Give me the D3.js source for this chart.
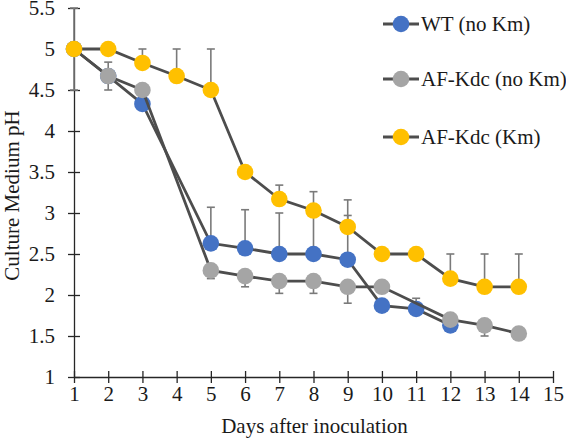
<!DOCTYPE html>
<html><head><meta charset="utf-8">
<script src="https://cdn.jsdelivr.net/npm/d3@7"></script>
<style>body{margin:0;background:#fff}svg{display:block}text{font-family:"Liberation Serif","Times New Roman",serif;fill:#1a1a1a}</style>
</head><body><svg id="c" width="566" height="443"></svg>
<script>
const days = [1,2,3,4,5,6,7,8,9,10,11,12,13,14];
const xTicks = [1,2,3,4,5,6,7,8,9,10,11,12,13,14,15];
const yTicks = [1,1.5,2,2.5,3,3.5,4,4.5,5,5.5];
const seriesNames = ["WT (no Km)","AF-Kdc (no Km)","AF-Kdc (Km)"];
const seriesColors = ["#4472C4","#A5A5A5","#FFC000"];
const wt      = [5, 4.67, 4.33, null, 2.63, 2.57, 2.5, 2.5, 2.43, 1.87, 1.83, 1.63, null, null];
const wtUp    = [0.5, 0, 0, 0, 0.44, 0.47, 0.5, 0.5, 0.54, 0, 0.13, 0, 0, 0];
const wtDown  = [0.5, 0, 0, 0, 0, 0, 0, 0, 0, 0, 0, 0, 0, 0];
const afNo     = [5, 4.67, 4.5, null, 2.3, 2.23, 2.17, 2.17, 2.1, 2.1, null, 1.7, 1.63, 1.53];
const afNoUp   = [0, 0.17, 0, 0, 0, 0, 0, 0, 0, 0, 0, 0, 0, 0];
const afNoDown = [0, 0.17, 0, 0, 0.1, 0.13, 0.15, 0.15, 0.2, 0, 0, 0, 0.13, 0];
const afKm     = [5, 5, 4.83, 4.67, 4.5, 3.5, 3.17, 3.03, 2.83, 2.5, 2.5, 2.2, 2.1, 2.1];
const afKmUp   = [0, 0, 0.17, 0.33, 0.5, 0, 0.17, 0.23, 0.33, 0, 0, 0.3, 0.4, 0.4];
const afKmDown = [0, 0, 0, 0, 0, 0, 0, 0, 0, 0, 0, 0, 0, 0];

const series = [
  {name: seriesNames[0], color: seriesColors[0], vals: wt, up: wtUp, down: wtDown},
  {name: seriesNames[1], color: seriesColors[1], vals: afNo, up: afNoUp, down: afNoDown},
  {name: seriesNames[2], color: seriesColors[2], vals: afKm, up: afKmUp, down: afKmDown}
];

const FONT = '"Liberation Serif","Times New Roman",serif';
const svg = d3.select("#c");
const x = d3.scaleLinear().domain([1,15]).range([74,553]);
const y = d3.scaleLinear().domain([1,5.5]).range([377,8]);
const axisColor = "#262626";

// axes
const gx = svg.append("g").attr("transform","translate(0,377)")
  .call(d3.axisBottom(x).tickValues(xTicks).tickFormat(d3.format("d")).tickSizeOuter(0))
  .attr("font-family", FONT).attr("font-size", 21);
gx.select(".domain").attr("stroke",axisColor).attr("stroke-width",1.3);
gx.selectAll(".tick line").attr("y1",-6).attr("y2",6).attr("stroke",axisColor).attr("stroke-width",1.3);
gx.selectAll(".tick text").attr("y",null).attr("dy",null).attr("transform","translate(0,24)");

const gy = svg.append("g").attr("transform","translate(74,0)")
  .call(d3.axisLeft(y).tickValues(yTicks).tickFormat(d3.format("")).tickSizeOuter(0))
  .attr("font-family", FONT).attr("font-size", 21);
gy.select(".domain").attr("stroke",axisColor).attr("stroke-width",1.3);
gy.selectAll(".tick line").attr("x1",-6).attr("x2",6).attr("stroke",axisColor).attr("stroke-width",1.3);
gy.selectAll(".tick text").attr("x",-19).attr("dy","0.33em");
svg.selectAll(".tick text").style("fill","#1a1a1a");

svg.append("text").attr("x",(x(1)+x(15))/2+1).attr("y",433).attr("text-anchor","middle")
  .style("font-size","21px").text("Days after inoculation");
svg.append("text").attr("transform","translate(19,"+(y(3.25)+3)+") rotate(-90)").attr("text-anchor","middle")
  .style("font-size","21px").text("Culture Medium pH");

const line = d3.line().x(d => x(d.day)).y(d => y(d.v));

series.forEach(s => {
  const pts = days.map((d,i) => ({day: d, v: s.vals[i], up: s.up[i], down: s.down[i]})).filter(p => p.v != null);
  const g = svg.append("g");
  // error bars
  pts.filter(p => p.up > 0 || p.down > 0).forEach(p => {
    const top = y(p.v + p.up), bot = y(p.v - p.down);
    const eb = g.append("g").attr("stroke","#7a7a7a").attr("stroke-width",1.6);
    eb.append("line").attr("x1",x(p.day)).attr("x2",x(p.day)).attr("y1",top).attr("y2",bot);
    if (p.up > 0) eb.append("line").attr("x1",x(p.day)-4).attr("x2",x(p.day)+4).attr("y1",top).attr("y2",top);
    if (p.down > 0) eb.append("line").attr("x1",x(p.day)-4).attr("x2",x(p.day)+4).attr("y1",bot).attr("y2",bot);
  });
  g.append("path").datum(pts).attr("d",line).attr("fill","none").attr("stroke","#4d4d4d").attr("stroke-width",2.8);
  g.selectAll("circle").data(pts).enter().append("circle")
    .attr("cx",p => x(p.day)).attr("cy",p => y(p.v)).attr("r",8.3).attr("fill",s.color);
});

// legend
const legY = [24, 79, 137];
series.forEach((s,i) => {
  const g = svg.append("g").attr("transform","translate(0,"+legY[i]+")");
  g.append("line").attr("x1",383).attr("x2",419).attr("stroke","#4d4d4d").attr("stroke-width",2.8);
  g.append("circle").attr("cx",401).attr("cy",0).attr("r",8.3).attr("fill",s.color);
  g.append("text").attr("x",421).attr("y",7).style("font-size","21px").text(s.name);
});
</script></body></html>
